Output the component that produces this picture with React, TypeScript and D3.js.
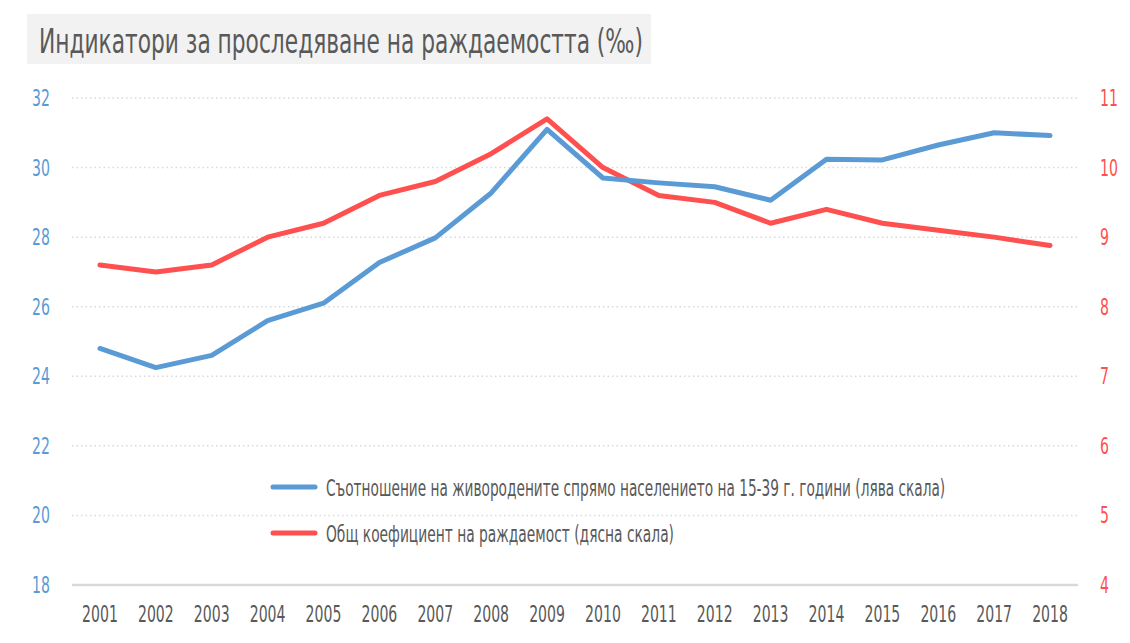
import { useMemo, useRef, useState, useLayoutEffect } from 'react';
import * as d3 from 'd3';

// Data
const years = ['2001', '2002', '2003', '2004', '2005', '2006', '2007', '2008', '2009', '2010', '2011', '2012', '2013', '2014', '2015', '2016', '2017', '2018'];
const ratioToPopulation = [24.8, 24.25, 24.6, 25.6, 26.1, 27.27, 27.98, 29.27, 31.1, 29.7, 29.56, 29.45, 29.06, 30.24, 30.22, 30.65, 31.0, 30.92];
const crudeBirthRate = [8.6, 8.5, 8.6, 9.0, 9.2, 9.6, 9.8, 10.2, 10.7, 10.0, 9.6, 9.5, 9.2, 9.4, 9.2, 9.1, 9.0, 8.88];
const leftTicks = [18, 20, 22, 24, 26, 28, 30, 32];
const rightTicks = [4, 5, 6, 7, 8, 9, 10, 11];

const title = 'Индикатори за проследяване на раждаемостта (‰)';
const seriesNames = [
  'Съотношение на живородените спрямо населението на 15-39 г. години (лява скала)',
  'Общ коефициент на раждаемост (дясна скала)',
];

const BLUE = '#5b9bd5';
const RED = '#ff5050';
const GRAY_TEXT = '#595959';
const GRID = '#d9d9d9';
const FONT = "'Liberation Sans Narrow', 'DejaVu Sans Condensed', 'Roboto', sans-serif";
const SX = 0.68; // horizontal squeeze to mimic the condensed face

// text squeezed horizontally around its anchor; if `fit` is given the squeeze
// is measured so the string spans exactly that many pixels
function Txt({ x, y, size, fill, anchor = 'start', fit, children }: any) {
  const ref = useRef<SVGTextElement>(null);
  const [sx, setSx] = useState(SX);

  useLayoutEffect(() => {
    if (!fit || !ref.current) return;
    const w = ref.current.getComputedTextLength();
    if (w > 0) setSx(fit / w);
  }, [fit, children]);

  return (
    <g transform={`translate(${x},${y}) scale(${sx},1)`}>
      <text ref={ref} x={0} y={0} fontSize={size} fill={fill} textAnchor={anchor} fontFamily={FONT}>
        {children}
      </text>
    </g>
  );
}

export default function App() {
  const width = 1130;
  const height = 643;
  const plot = { left: 72, right: 1078, top: 98, bottom: 585 };

  const x = useMemo(() => d3.scaleBand<string>().domain(years).range([plot.left, plot.right]), []);
  const yLeft = useMemo(() => d3.scaleLinear().domain([18, 32]).range([plot.bottom, plot.top]), []);
  const yRight = useMemo(() => d3.scaleLinear().domain([4, 11]).range([plot.bottom, plot.top]), []);
  const cx = (yr: string) => (x(yr) ?? 0) + x.bandwidth() / 2;

  const blueLine = d3.line<number>().x((_, i) => cx(years[i])).y(d => yLeft(d))(ratioToPopulation) ?? '';
  const redLine = d3.line<number>().x((_, i) => cx(years[i])).y(d => yRight(d))(crudeBirthRate) ?? '';

  return (
    <div style={{ position: 'absolute', left: 0, top: 0, width, height, background: '#fff' }}>
      <svg width={width} height={height}>
        <rect width={width} height={height} fill="#fff" />

        {/* title box */}
        <rect x={27} y={14} width={624} height={50} fill="#f2f2f2" />
        <Txt x={39} y={53} size={34} fill={GRAY_TEXT} fit={604}>{title}</Txt>

        {/* gridlines */}
        {leftTicks.map(t => (
          <line key={t} x1={plot.left} x2={plot.right} y1={yLeft(t)} y2={yLeft(t)}
            stroke={GRID} strokeWidth={t === 18 ? 2.5 : 1.5}
            strokeDasharray={t === 18 ? undefined : '1.5,3'} />
        ))}

        {/* left axis labels */}
        {leftTicks.map(t => (
          <Txt key={t} x={50} y={yLeft(t) + 8} size={23} fill={BLUE} anchor="end">{t}</Txt>
        ))}
        {/* right axis labels */}
        {rightTicks.map(t => (
          <Txt key={t} x={1100} y={yRight(t) + 8} size={23} fill={RED}>{t}</Txt>
        ))}
        {/* x axis labels */}
        {years.map(yr => (
          <Txt key={yr} x={cx(yr)} y={622} size={23} fill={GRAY_TEXT} anchor="middle">{yr}</Txt>
        ))}

        {/* series */}
        <path d={redLine} fill="none" stroke={RED} strokeWidth={5} strokeLinejoin="round" strokeLinecap="round" />
        <path d={blueLine} fill="none" stroke={BLUE} strokeWidth={5} strokeLinejoin="round" strokeLinecap="round" />

        {/* legend */}
        {seriesNames.map((name, i) => {
          const ly = 487 + i * 46;
          return (
            <g key={name}>
              <line x1={273} x2={315} y1={ly} y2={ly} stroke={i === 0 ? BLUE : RED} strokeWidth={5} strokeLinecap="round" />
              <Txt x={326} y={ly + 9} size={23} fill={GRAY_TEXT} fit={i === 0 ? 619 : 348}>{name}</Txt>
            </g>
          );
        })}
      </svg>
    </div>
  );
}
